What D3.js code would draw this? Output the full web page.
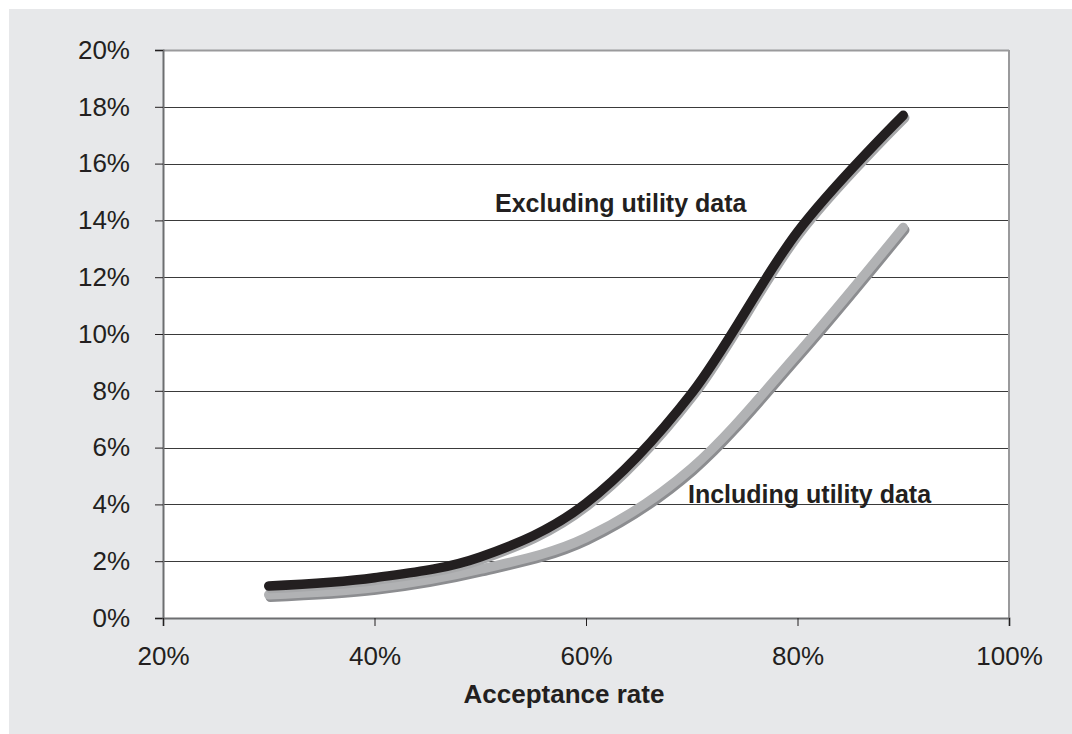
<!DOCTYPE html>
<html><head><meta charset="utf-8">
<script src="https://cdn.jsdelivr.net/npm/d3@7"></script>
<style>body{margin:0;background:#fff}svg{display:block}text{font-family:"Liberation Sans",Arial,sans-serif;fill:#231f20}</style>
</head><body>
<svg id="c" width="1072" height="734"></svg>
<script>
const acceptance = [0.30, 0.40, 0.50, 0.60, 0.70, 0.80, 0.90];
const excluding = [0.0113, 0.0142, 0.0215, 0.0404, 0.0792, 0.1360, 0.1770];
const including = [0.0082, 0.0107, 0.0172, 0.0283, 0.0528, 0.0930, 0.1375];
const xTicks = [0.2, 0.4, 0.6, 0.8, 1.0];
const yTicks = [0, 0.02, 0.04, 0.06, 0.08, 0.10, 0.12, 0.14, 0.16, 0.18, 0.20];
const labelExcl = "Excluding utility data";
const labelIncl = "Including utility data";
const xTitle = "Acceptance rate";

const svg = d3.select("#c");
svg.append("rect").attr("x", 9).attr("y", 9).attr("width", 1063).attr("height", 725).attr("fill", "#e7e8ea");

const L = 163, R = 1009, T = 50, B = 618;
const x = d3.scaleLinear().domain([0.2, 1.0]).range([L, R]);
const y = d3.scaleLinear().domain([0, 0.2]).range([B, T]);
svg.append("rect").attr("x", L).attr("y", T).attr("width", R - L).attr("height", B - T).attr("fill", "#fff");

svg.append("g").selectAll("line").data(yTicks.filter(d => d > 0 && d < 0.2)).join("line")
  .attr("x1", L).attr("x2", R).attr("y1", d => Math.round(y(d)) + 0.5).attr("y2", d => Math.round(y(d)) + 0.5)
  .attr("stroke", "#3a3a3a").attr("stroke-width", 1);
svg.append("line").attr("x1", L).attr("x2", R).attr("y1", T + 0.5).attr("y2", T + 0.5).attr("stroke", "#9a9a9c").attr("stroke-width", 2);
svg.append("line").attr("x1", R).attr("x2", R).attr("y1", T).attr("y2", B).attr("stroke", "#9a9a9c").attr("stroke-width", 2);

const yAxis = svg.append("g").attr("transform", `translate(${L},0)`)
  .call(d3.axisLeft(y).tickValues(yTicks).tickFormat(d3.format(".0%")).tickSize(8).tickPadding(25));
const xAxis = svg.append("g").attr("transform", `translate(0,${B})`)
  .call(d3.axisBottom(x).tickValues(xTicks).tickFormat(d3.format(".0%")).tickSize(8).tickPadding(21));
[yAxis, xAxis].forEach(a => {
  a.select(".domain").attr("stroke", "#6d6e70").attr("stroke-width", 2);
  a.selectAll(".tick line").attr("stroke", "#231f20");
  a.selectAll("text").attr("font-size", 26).attr("fill", "#231f20").style("font-family", '"Liberation Sans",Arial,sans-serif');
});

const line = d3.line().x((d, i) => x(acceptance[i])).y(d => y(d)).curve(d3.curveCatmullRom.alpha(0));

function drawSeries(vals, main, shadow) {
  svg.append("path").attr("d", line(vals)).attr("transform", "translate(1.5,2.5)")
    .attr("fill", "none").attr("stroke", shadow).attr("stroke-width", 9.5).attr("stroke-linecap", "round").attr("stroke-linejoin", "round");
  svg.append("path").attr("d", line(vals))
    .attr("fill", "none").attr("stroke", main).attr("stroke-width", 9.5).attr("stroke-linecap", "round").attr("stroke-linejoin", "round");
}
drawSeries(including, "#b1b2b4", "#8c8d90");
drawSeries(excluding, "#231f20", "#a7a8aa");

svg.append("text").attr("x", 495).attr("y", 212).attr("font-size", 25).attr("font-weight", "bold").text(labelExcl);
svg.append("text").attr("x", 688).attr("y", 503).attr("font-size", 25).attr("font-weight", "bold").text(labelIncl);
svg.append("text").attr("x", 564).attr("y", 703).attr("text-anchor", "middle").attr("font-size", 26).attr("font-weight", "bold").text(xTitle);
</script>
</body></html>
